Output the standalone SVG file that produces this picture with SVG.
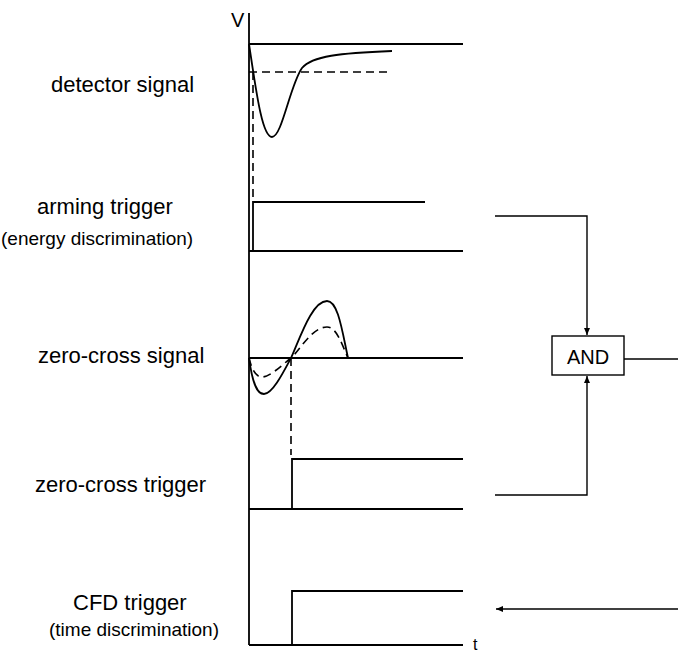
<svg xmlns="http://www.w3.org/2000/svg" width="678" height="655" viewBox="0 0 678 655">
<style>
.ln{stroke:#000;stroke-width:1.8;fill:none}
.dl{stroke:#000;stroke-width:1.6;fill:none;stroke-dasharray:8,5}
.cn{stroke:#000;stroke-width:1.4;fill:none}
.lb{font-family:"Liberation Sans",Arial,sans-serif;font-size:22px;fill:#000}
.sm{font-family:"Liberation Sans",Arial,sans-serif;font-size:19px;fill:#000}
</style>
<defs>
<marker id="ah" markerWidth="8" markerHeight="8" refX="7" refY="4" orient="auto" markerUnits="userSpaceOnUse">
<path d="M0,1 L7,4 L0,7 Z" fill="#000"/>
</marker>
</defs>
<rect width="678" height="655" fill="#fff"/>
<g id="axes">
<line class="ln" x1="249" y1="13" x2="249" y2="645"/>
<text class="lb" x="231" y="27" style="font-size:20px">V</text>
<text class="lb" x="473" y="650" style="font-size:16px">t</text>
</g>
<g id="detector">
<text class="lb" x="51" y="92">detector signal</text>
<line class="ln" x1="249" y1="44" x2="463" y2="44"/>
<path class="ln" d="M249,44 C256,90 262,137 272,137 C282,137 290,85 302,68 C312,56 340,53 392,51"/>
<line class="dl" x1="249" y1="72" x2="390" y2="72"/>
<line class="dl" x1="253" y1="72" x2="253" y2="198"/>
</g>
<g id="arming">
<text class="lb" x="37" y="214">arming trigger</text>
<text class="sm" x="1" y="245">(energy discrimination)</text>
<polyline class="ln" points="253,251 253,202 425,202"/>
<line class="ln" x1="249" y1="251" x2="463" y2="251"/>
</g>
<g id="zerocross">
<text class="lb" x="38" y="363">zero-cross signal</text>
<line class="ln" x1="249" y1="358" x2="463" y2="358"/>
<path class="ln" d="M249,358 C252,380 256,394 264,394 C272,394 282,375 291,358 C300,338 312,301 327,301 C338,301 342,330 348,358"/>
<path class="dl" d="M249,358 C252,370 256,377 262,377 C270,377 282,365 291,358 C300,350 312,327 327,327 C337,327 342,345 348,358"/>
<line class="dl" x1="291" y1="358" x2="291" y2="455"/>
</g>
<g id="zctrigger">
<text class="lb" x="35" y="492">zero-cross trigger</text>
<polyline class="ln" points="292,509 292,459 463,459"/>
<line class="ln" x1="249" y1="509" x2="463" y2="509"/>
</g>
<g id="cfd">
<text class="lb" x="73" y="610">CFD trigger</text>
<text class="sm" x="49" y="636">(time discrimination)</text>
<polyline class="ln" points="292,645 292,591 463,591"/>
<line class="ln" x1="249" y1="645" x2="463" y2="645"/>
</g>
<g id="and">
<rect x="552" y="336" width="72" height="39" fill="#fff" stroke="#000" stroke-width="1.4"/>
<text class="lb" x="588" y="364" text-anchor="middle" style="font-size:20px">AND</text>
</g>
<g id="connectors">
<polyline class="cn" points="495,216 587,216 587,335" marker-end="url(#ah)"/>
<polyline class="cn" points="495,495 587,495 587,376" marker-end="url(#ah)"/>
<line class="cn" x1="624" y1="359" x2="678" y2="359"/>
<line class="cn" x1="678" y1="609" x2="496" y2="609" marker-end="url(#ah)"/>
</g>
</svg>
